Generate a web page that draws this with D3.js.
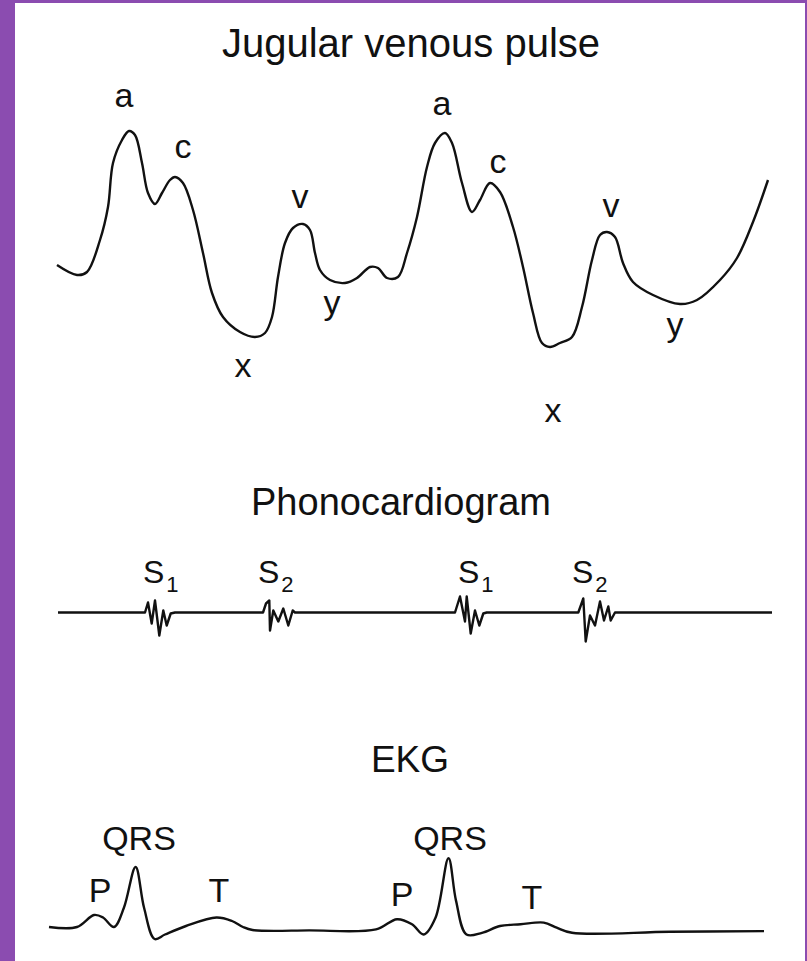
<!DOCTYPE html>
<html>
<head>
<meta charset="utf-8">
<script src="https://cdn.jsdelivr.net/npm/d3@7"></script>
<style>
    html, body { margin: 0; padding: 0; background: #fff; }
    #chart-area { width: 807px; height: 961px; }
    text { font-family: "Liberation Sans", Arial, Helvetica, sans-serif; fill: #111; }
</style>
</head>
<body>
<div id="chart-area"></div>
<script>
//jugular venous pulse: sweep time and level above the deepest x descent
const jvpTime = [57, 77, 87, 100, 108, 113, 122, 129, 135, 142, 148, 155, 162, 170, 175, 183, 193, 203, 212, 223,
    240, 255, 265, 272, 278, 285, 293, 303, 310, 315, 320, 330, 345, 357, 370, 378, 387, 398, 407, 417,
    427, 435, 445, 452, 462, 472, 480, 490, 500, 513, 523, 533, 542, 550, 560, 572, 582, 592, 600, 607,
    615, 623, 633, 653, 680, 697, 720, 737, 753, 768];
const jvpLevel = [85, 75, 78, 110, 143, 187, 210, 219, 215, 187, 157, 146, 157, 170, 173, 167, 140, 97, 57, 33,
    18, 13, 17, 33, 73, 107, 122, 126, 120, 97, 80, 70, 67, 72, 83, 82, 72, 73, 97, 133,
    183, 207, 217, 207, 167, 138, 150, 167, 158, 123, 83, 37, 7, 3, 7, 13, 43, 90, 115, 118,
    113, 87, 68, 55, 46, 50, 70, 92, 128, 170];
const jvpLabels = ['a', 'c', 'x', 'v', 'y', 'a', 'c', 'x', 'v', 'y'];
const jvpLabelTime = [124, 183, 243, 300, 332, 442, 498, 553, 611, 675];
const jvpLabelLevel = [243, 192, -27, 142, 36, 235, 177, -72, 133, 14];

//phonocardiogram: baseline with the S1 / S2 vibrations
const phonoTime = [58,
    145, 148, 151.7, 155, 159.3, 163.3, 166.7, 170.7, 175,
    263, 266, 269.3, 270, 273.3, 278.3, 283.3, 288.3, 292.7, 295,
    455, 460, 465, 466.7, 470.7, 475, 479.3, 483.3, 486.7,
    578.3, 583.3, 585.7, 590, 595, 600, 604, 608.3, 610.7, 615,
    772];
const phonoLevel = [0,
    0, 10, -11, 12, -23, 2, -13, -1, 0,
    0, 9, 12, -18, 2, -9, 4, -13, 2, 0,
    0, 16, -9, 16, -21, 2, -13, -1, 0,
    0, 14, -29, -3, -13, 11, -8, 6, -8, 0,
    0];
const soundLabels = ['1', '2', '1', '2'];
const soundLabelTime = [143, 258, 458, 572];

//EKG trace
const ekgTime = [49, 77, 94, 103, 114, 124, 135.6, 144, 154.6, 165, 186, 216.5, 232, 243, 252.6, 309,
    376, 397, 412, 423.7, 435.6, 448.5, 456, 466.5, 482, 500, 520.6, 543.8, 556.7, 572, 670, 764];
const ekgLevel = [0, 0, 12, 9.5, 0, 19.5, 60, 19.5, -12, -7.5, 1, 9.5, 6, 0, -3, -3.4,
    -2.4, 7.8, 2.7, -7.5, 9.5, 68.8, 26.4, -7.5, -5.8, 1, 2.7, 4.4, -0.7, -5.8, -4.8, -4.1];
const ekgLabels = ['QRS', 'P', 'T', 'QRS', 'P', 'T'];
const ekgLabelTime = [139, 100, 219, 450, 402, 532];
const ekgLabelLevel = [77, 25, 25, 77, 21.5, 18];

drawChart();

//draws the three stacked traces
function drawChart() {
    const width = 807;
    const height = 961;

    const svg = d3.select('#chart-area').append('svg')
        .attr('width', width)
        .attr('height', height);

    //purple frame round the white sheet
    svg.append('rect')
        .attr('width', width)
        .attr('height', height)
        .attr('fill', '#8b4cb0');
    svg.append('rect')
        .attr('x', 15)
        .attr('y', 3)
        .attr('width', width - 17)
        .attr('height', height - 3)
        .attr('fill', '#fff');

    //one shared time axis, one level scale per panel
    const xScale = d3.scaleLinear().domain([0, width]).range([0, width]);
    const yJvp = d3.scaleLinear().domain([0, 250]).range([350, 100]);
    const yPhono = d3.scaleLinear().domain([-30, 30]).range([642.5, 582.5]);
    const yEkg = d3.scaleLinear().domain([-20, 80]).range([947, 847]);

    //titles
    addTitle(svg, 'Jugular venous pulse', 411, 57, 40);
    addTitle(svg, 'Phonocardiogram', 401, 515, 38);
    addTitle(svg, 'EKG', 410, 772, 37);

    //traces
    drawTrace(svg, jvpTime, jvpLevel, xScale, yJvp, d3.curveCatmullRom.alpha(0.5));
    drawTrace(svg, phonoTime, phonoLevel, xScale, yPhono, d3.curveLinear);
    drawTrace(svg, ekgTime, ekgLevel, xScale, yEkg, d3.curveCatmullRom.alpha(0.5));

    //wave labels of the venous pulse
    svg.append('g').selectAll('text')
        .data(jvpLabels)
        .enter()
        .append('text')
        .attr('x', (d, i) => xScale(jvpLabelTime[i]))
        .attr('y', (d, i) => yJvp(jvpLabelLevel[i]))
        .attr('text-anchor', 'middle')
        .attr('font-size', '34px')
        .text(d => d);

    //S1 / S2 labels with subscripts
    const sound = svg.append('g').selectAll('text')
        .data(soundLabels)
        .enter()
        .append('text')
        .attr('x', (d, i) => xScale(soundLabelTime[i]))
        .attr('y', yPhono(29.5))
        .attr('font-size', '32px');
    sound.append('tspan').text('S');
    sound.append('tspan')
        .attr('dx', 2)
        .attr('dy', 8.5)
        .attr('font-size', '22px')
        .text(d => d);

    //EKG wave labels
    svg.append('g').selectAll('text')
        .data(ekgLabels)
        .enter()
        .append('text')
        .attr('x', (d, i) => xScale(ekgLabelTime[i]))
        .attr('y', (d, i) => yEkg(ekgLabelLevel[i]))
        .attr('text-anchor', 'middle')
        .attr('font-size', '34px')
        .text(d => d);
}

//adds a centred panel title
function addTitle(svg, label, x, y, size) {
    svg.append('text')
        .attr('x', x)
        .attr('y', y)
        .attr('text-anchor', 'middle')
        .attr('font-size', size + 'px')
        .text(label);
}

//draws one trace from its time and level arrays
function drawTrace(svg, times, levels, xScale, yScale, curve) {
    const line = d3.line()
        .x(i => xScale(times[i]))
        .y(i => yScale(levels[i]))
        .curve(curve);

    svg.append('path')
        .datum(d3.range(times.length))
        .attr('d', line)
        .attr('fill', 'none')
        .attr('stroke', '#111')
        .attr('stroke-width', 2.4)
        .attr('stroke-linejoin', 'round');
}
</script>
</body>
</html>
